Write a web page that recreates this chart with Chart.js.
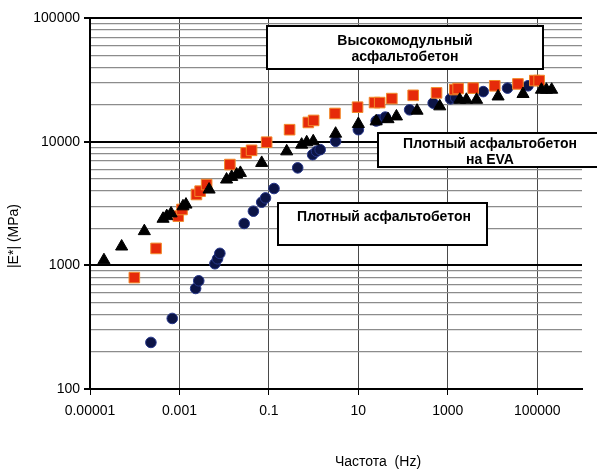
<!DOCTYPE html>
<html>
<head>
<meta charset="utf-8">
<script src="https://cdn.jsdelivr.net/npm/chart.js@4/dist/chart.umd.min.js"></script>
<style>
  body { margin: 0; background: #fff; }
  #wrap { width: 597px; height: 471px; }
</style>
</head>
<body>
<div id="wrap"><canvas id="modChart" width="597" height="471"></canvas></div>
<script>
// Плотный асфальтобетон (circles)
const denseFreq = [2.3e-4, 6.9e-4, 2.3e-3, 2.7e-3, 6.2e-3, 7.1e-3, 8e-3, 0.028, 0.045, 0.069, 0.084, 0.13,
                   0.44, 0.95, 1.16, 1.4, 3.1, 10, 25, 28, 40, 140, 470, 1150, 1500, 6200, 21600, 62000];
const denseMod  = [238, 372, 650, 750, 1030, 1130, 1250, 2180, 2740, 3240, 3510, 4180,
                   6140, 7850, 8350, 8620, 10060, 12500, 14700, 15000, 15800, 18100, 20500, 22200, 22600, 25400, 27100, 28300];

// Плотный асфальтобетон на EVA (triangles)
const evaFreq = [2.05e-5, 5.1e-5, 1.64e-4, 4.3e-4, 5.2e-4, 6.5e-4, 1.2e-3, 1.4e-3, 4.6e-3, 0.0113, 0.0147, 0.019, 0.023,
                 0.069, 0.25, 0.54, 0.7, 0.98, 3.1, 10, 25, 46, 71, 205, 660, 1850, 2600, 4400, 13300, 48000, 124000, 160000, 210000];
const evaMod  = [1100, 1420, 1890, 2380, 2500, 2630, 3000, 3100, 4100, 4940, 5190, 5420, 5590,
                 6730, 8350, 9460, 9880, 10070, 11600, 13900, 14600, 15200, 16000, 17800, 19300, 21800, 21800, 21800, 23200, 24300, 26300, 26300, 26300];

// Высокомодульный асфальтобетон (squares)
const highFreq = [9.8e-5, 3e-4, 9.4e-4, 1.14e-3, 2.4e-3, 2.9e-3, 4.05e-3, 0.0134, 0.031, 0.041, 0.089, 0.29, 0.76, 1.0,
                  3.0, 9.6, 23, 30, 56, 168, 560, 1430, 1700, 3700, 11200, 37000, 88000, 110000];
const highMod  = [796, 1370, 2500, 2830, 3740, 3980, 4500, 6530, 8110, 8510, 9900, 12500, 14300, 14850,
                  16900, 19000, 20700, 20700, 22300, 23700, 24800, 26400, 26900, 27100, 28300, 29300, 31200, 31200];

const xTickValues = [1e-5, 1e-3, 0.1, 10, 1000, 100000];
const xTickLabels = ['0.00001', '0.001', '0.1', '10', '1000', '100000'];
const yDecades = [100, 1000, 10000, 100000];
const yTickLabels = ['100', '1000', '10000', '100000'];

const yGrid = [];
yDecades.forEach((d, i) => {
    if (i === yDecades.length - 1) { yGrid.push(d); return; }
    for (let k = 1; k < 10; k++) yGrid.push(d * k);
});

const pts = (xs, ys) => xs.map((x, i) => ({x: x, y: ys[i]}));

const FONT = '"Liberation Sans Narrow", "Liberation Sans", Arial, sans-serif';

const boxes = [
    {x: 267, y: 26, w: 276, h: 43, lines: ['Высокомодульный', 'асфальтобетон'], cx: 405, ty: 41},
    {x: 378, y: 133, w: 230, h: 34, lines: ['Плотный асфальтобетон', 'на EVA'], cx: 490, ty: 144},
    {x: 278, y: 203, w: 209, h: 42, lines: ['Плотный асфальтобетон'], cx: 384, ty: 217}
];

const decorPlugin = {
    id: 'decor',
    afterDatasetsDraw(chart) {
        const c = chart.ctx;
        c.save();
        boxes.forEach(b => {
            c.fillStyle = '#fff';
            c.fillRect(b.x, b.y, b.w, b.h);
            c.strokeStyle = '#000';
            c.lineWidth = 2;
            c.strokeRect(b.x, b.y, b.w, b.h);
            c.fillStyle = '#000';
            c.font = 'bold 14px "Liberation Sans", Arial, sans-serif';
            c.textAlign = 'center';
            c.textBaseline = 'middle';
            b.lines.forEach((l, i) => c.fillText(l, b.cx, b.ty + i * 16));
        });
        c.font = '14px ' + FONT;
        c.fillStyle = '#000';
        c.textAlign = 'center';
        c.textBaseline = 'middle';
        c.fillText('Частота  (Hz)', 378, 462);
        c.translate(14, 236);
        c.rotate(-Math.PI / 2);
        c.fillText('|E*| (MPa)', 0, 0);
        c.restore();
    }
};

new Chart(document.getElementById('modChart'), {
    type: 'scatter',
    data: {
        datasets: [
            {
                label: 'Плотный асфальтобетон на EVA',
                data: pts(evaFreq, evaMod),
                pointStyle: 'triangle',
                pointRadius: 7,
                backgroundColor: '#000',
                borderColor: '#000',
                borderWidth: 1
            },
            {
                label: 'Высокомодульный асфальтобетон',
                data: pts(highFreq, highMod),
                pointStyle: 'rect',
                pointRadius: 7.5,
                backgroundColor: '#e62a0a',
                borderColor: '#f28a2a',
                borderWidth: 1
            },
            {
                label: 'Плотный асфальтобетон',
                data: pts(denseFreq, denseMod),
                pointStyle: 'circle',
                pointRadius: 5.3,
                backgroundColor: '#0c1446',
                borderColor: '#26368a',
                borderWidth: 1
            }
        ]
    },
    options: {
        responsive: false,
        animation: false,
        layout: {padding: {top: 18, right: 15, left: 0, bottom: 0}},
        plugins: {legend: {display: false}, tooltip: {enabled: false}},
        scales: {
            x: {
                type: 'logarithmic',
                min: 1e-5,
                max: 1e6,
                afterBuildTicks: scale => { scale.ticks = xTickValues.map(v => ({value: v})); },
                afterFit: scale => { scale.height = 82; },
                ticks: {
                    autoSkip: false,
                    maxRotation: 0,
                    padding: 8,
                    color: '#000',
                    font: {family: FONT, size: 14},
                    callback: (v) => {
                        const i = xTickValues.indexOf(v);
                        return i >= 0 ? xTickLabels[i] : '';
                    }
                },
                grid: {color: '#4a4a4a', lineWidth: 1, tickLength: 6, tickColor: '#000'},
                border: {color: '#000', width: 2}
            },
            y: {
                type: 'logarithmic',
                min: 100,
                max: 100000,
                afterBuildTicks: scale => { scale.ticks = yGrid.map(v => ({value: v})); },
                afterFit: scale => { scale.width = 90; },
                ticks: {
                    autoSkip: false,
                    padding: 4,
                    color: '#000',
                    font: {family: FONT, size: 14},
                    callback: (v) => {
                        const i = yDecades.indexOf(v);
                        return i >= 0 ? yTickLabels[i] : '';
                    }
                },
                grid: {
                    color: ctx => (ctx.tick && yDecades.includes(ctx.tick.value)) ? '#000' : '#8c8c8c',
                    lineWidth: ctx => (ctx.tick && yDecades.includes(ctx.tick.value)) ? 2 : 1.2,
                    tickLength: 6,
                    tickColor: ctx => (ctx.tick && yDecades.includes(ctx.tick.value)) ? '#000' : 'rgba(0,0,0,0)'
                },
                border: {color: '#000', width: 2}
            }
        }
    },
    plugins: [decorPlugin]
});
</script>
</body>
</html>
